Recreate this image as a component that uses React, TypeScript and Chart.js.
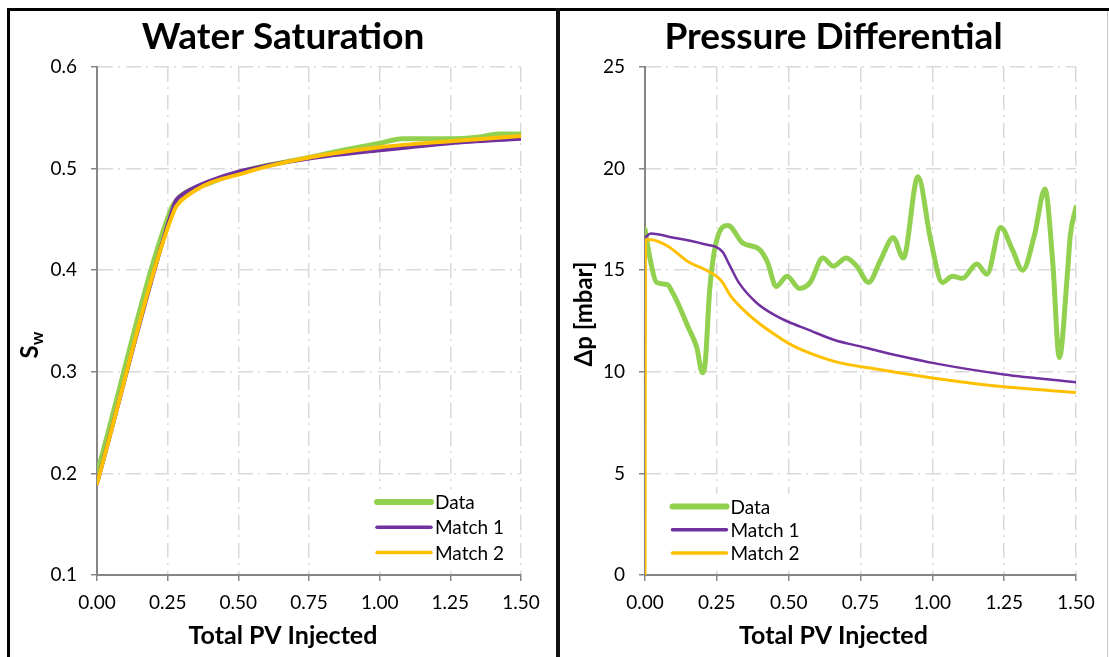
import React, { useEffect, useRef } from "react";
import { Chart, registerables } from "chart.js";

Chart.register(...registerables);

const FONT = "Lato, 'Open Sans', 'DejaVu Sans', sans-serif";

// ---------- Water Saturation ----------
const swDataX = [0, 0.265, 0.28, 0.3, 0.4, 0.5, 0.6, 0.75, 0.85, 1.0, 1.08, 1.2, 1.27, 1.35, 1.42, 1.5];
const swDataY = [0.2, 0.462, 0.468, 0.474, 0.486, 0.496, 0.503, 0.511, 0.517, 0.525, 0.5295, 0.5295, 0.5295, 0.531, 0.534, 0.534];
const swMatch1X = [0, 0.27, 0.28, 0.3, 0.35, 0.4, 0.5, 0.6, 0.75, 1.0, 1.25, 1.5];
const swMatch1Y = [0.19, 0.462, 0.469, 0.474, 0.482, 0.488, 0.497, 0.503, 0.51, 0.518, 0.525, 0.5295];
const swMatch2X = [0, 0.275, 0.29, 0.3, 0.35, 0.4, 0.5, 0.6, 0.75, 1.0, 1.25, 1.5];
const swMatch2Y = [0.19, 0.46, 0.466, 0.469, 0.479, 0.486, 0.494, 0.502, 0.511, 0.521, 0.527, 0.532];

// ---------- Pressure Differential ----------
const dpDataX = [0, 0.02, 0.04, 0.077, 0.096, 0.12, 0.15, 0.18, 0.2, 0.21, 0.225, 0.25, 0.289, 0.339, 0.4, 0.426, 0.457, 0.494, 0.538, 0.575, 0.619, 0.656, 0.7, 0.737, 0.778, 0.82, 0.864, 0.899, 0.95, 0.994, 1.035, 1.07, 1.105, 1.155, 1.19, 1.238, 1.279, 1.314, 1.355, 1.392, 1.419, 1.442, 1.471, 1.48, 1.5];
const dpDataY = [17.0, 15.4, 14.4, 14.3, 13.9, 13.2, 12.2, 11.2, 9.95, 10.5, 14.0, 16.5, 17.2, 16.35, 16.0, 15.4, 14.2, 14.7, 14.1, 14.4, 15.6, 15.2, 15.6, 15.2, 14.4, 15.5, 16.6, 15.6, 19.6, 16.5, 14.4, 14.7, 14.6, 15.3, 14.8, 17.1, 16.0, 15.0, 16.7, 19.0, 15.4, 10.7, 15.0, 16.7, 18.1];
const dpMatch1X = [0, 0.02, 0.1, 0.2, 0.27, 0.289, 0.326, 0.388, 0.45, 0.5, 0.563, 0.662, 0.75, 0.82, 1.0, 1.25, 1.5];
const dpMatch1Y = [16.6, 16.8, 16.6, 16.3, 15.9, 15.4, 14.4, 13.4, 12.8, 12.45, 12.1, 11.55, 11.25, 11.0, 10.44, 9.87, 9.49];
const dpMatch2X = [0, 0.002, 0.02, 0.077, 0.152, 0.214, 0.264, 0.3, 0.35, 0.4, 0.45, 0.5, 0.55, 0.662, 0.82, 1.0, 1.25, 1.5];
const dpMatch2Y = [0, 16.5, 16.5, 16.2, 15.4, 15.0, 14.5, 13.7, 12.95, 12.35, 11.85, 11.4, 11.05, 10.5, 10.1, 9.7, 9.26, 8.98];

const xTicksMin = 0;
const xTicksMax = 1.5;
const xTickStep = 0.25;
const swTickMin = 0.1;
const swTickMax = 0.6;
const swTickStep = 0.1;
const dpTickMin = 0;
const dpTickMax = 25;
const dpTickStep = 5;

const seriesLabels = ["Data", "Match 1", "Match 2"];
const xAxisTitle = "Total PV Injected";
const GREEN = "#92D050";
const PURPLE = "#7030A0";
const YELLOW = "#FFC000";

const zip = (xs: number[], ys: number[]) => xs.map((x, i) => ({ x, y: ys[i] }));

function legendPlugin(cfg: { x: number; y: number; gap: number; len: number }) {
  return {
    id: "insideLegend",
    afterDatasetsDraw(chart: any) {
      const { ctx, chartArea } = chart;
      const x0 = chartArea.left + cfg.x;
      const y0 = chartArea.top + cfg.y;
      ctx.save();
      ctx.font = `19px ${FONT}`;
      let maxW = 0;
      chart.data.datasets.forEach((ds: any) => {
        maxW = Math.max(maxW, ctx.measureText(ds.label).width);
      });
      const n = chart.data.datasets.length;
      ctx.fillStyle = "#fff";
      ctx.fillRect(x0 - 5, y0 - 13, cfg.len + 5 + maxW + 10, (n - 1) * cfg.gap + 26);
      chart.data.datasets.forEach((ds: any, i: number) => {
        const y = y0 + i * cfg.gap;
        ctx.strokeStyle = ds.borderColor;
        ctx.lineWidth = ds.legendWidth || ds.borderWidth;
        ctx.lineCap = "round";
        ctx.beginPath();
        ctx.moveTo(x0, y);
        ctx.lineTo(x0 + cfg.len, y);
        ctx.stroke();
        ctx.fillStyle = "#000";
        ctx.textBaseline = "middle";
        ctx.textAlign = "left";
        ctx.fillText(ds.label, x0 + cfg.len + 4, y + 1);
      });
      ctx.restore();
    },
  };
}

const xTitlePlugin = {
  id: "xTitle",
  afterDraw(chart: any) {
    const ctx = chart.ctx;
    ctx.save();
    ctx.fillStyle = "#000";
    ctx.font = `bold 25px ${FONT}`;
    ctx.textAlign = "center";
    ctx.textBaseline = "middle";
    ctx.fillText(xAxisTitle, chart.width / 2, 625);
    ctx.restore();
  },
};

const swTitlePlugin = {
  id: "swTitle",
  afterDraw(chart: any) {
    const ctx = chart.ctx;
    ctx.save();
    ctx.translate(28, 334);
    ctx.rotate(-Math.PI / 2);
    ctx.fillStyle = "#000";
    const big = `bold 24px ${FONT}`;
    const small = `bold 17px ${FONT}`;
    ctx.font = big;
    const wS = ctx.measureText("S").width;
    ctx.font = small;
    const wW = ctx.measureText("w").width;
    const start = -(wS + wW) / 2;
    ctx.textBaseline = "alphabetic";
    ctx.textAlign = "left";
    ctx.font = big;
    ctx.fillText("S", start, 0);
    ctx.font = small;
    ctx.fillText("w", start + wS, 5);
    ctx.restore();
  },
};

const dpTitlePlugin = {
  id: "dpTitle",
  afterDraw(chart: any) {
    const ctx = chart.ctx;
    ctx.save();
    ctx.translate(24, 303);
    ctx.rotate(-Math.PI / 2);
    ctx.fillStyle = "#000";
    ctx.font = `bold 24px ${FONT}`;
    ctx.textAlign = "center";
    ctx.textBaseline = "middle";
    ctx.fillText("Δp [mbar]", 0, 0);
    ctx.restore();
  },
};

function buildConfig(p: {
  title: string;
  datasets: any[];
  yMin: number;
  yMax: number;
  yStep: number;
  yDecimals: number;
  yWidth: number;
  rightPad: number;
  xHeight: number;
  plugins: any[];
}) {
  return {
    type: "line",
    data: { datasets: p.datasets },
    options: {
      responsive: false,
      animation: false,
      devicePixelRatio: 1,
      parsing: false,
      normalized: true,
      layout: { padding: { left: 0, right: 0, top: 0, bottom: 0 } },
      elements: { point: { radius: 0, hoverRadius: 0 } },
      plugins: {
        legend: { display: false },
        tooltip: { enabled: false },
        title: {
          display: true,
          text: p.title,
          color: "#000",
          font: { family: FONT, size: 37, weight: "bold", lineHeight: 1.2 },
          padding: { top: 4, bottom: 7.6 },
        },
      },
      scales: {
        x: {
          type: "linear",
          min: xTicksMin,
          max: xTicksMax,
          ticks: {
            stepSize: xTickStep,
            color: "#000",
            font: { family: FONT, size: 19 },
            padding: 10,
            maxRotation: 0,
            callback: (v: any) => Number(v).toFixed(2),
          },
          grid: { color: "#d9d9d9", lineWidth: 1.5, drawTicks: true, tickLength: 6, tickColor: "#868686", tickWidth: 1.5 },
          border: { display: true, color: "#868686", width: 2, dash: [15, 5, 2, 6] },
          title: { display: false },
          afterFit: (s: any) => {
            s.height = p.xHeight;
          },
        },
        y: {
          type: "linear",
          position: "left",
          min: p.yMin,
          max: p.yMax,
          ticks: {
            stepSize: p.yStep,
            color: "#000",
            font: { family: FONT, size: 19 },
            padding: 14,
            callback: (v: any) => Number(v).toFixed(p.yDecimals),
          },
          grid: { color: "#d9d9d9", lineWidth: 1.5, drawTicks: true, tickLength: 6, tickColor: "#868686", tickWidth: 1.5 },
          border: { display: true, color: "#868686", width: 2, dash: [15, 5, 2, 6] },
          afterFit: (s: any) => {
            s.width = p.yWidth;
          },
        },
        yPad: {
          type: "linear",
          position: "right",
          display: true,
          min: 0,
          max: 1,
          ticks: { display: false },
          grid: { display: false, drawTicks: false },
          border: { display: false },
          afterFit: (s: any) => {
            s.width = p.rightPad;
          },
        },
      },
    },
    plugins: p.plugins,
  };
}

function makeDatasets(
  d: { x: number[]; y: number[] }[],
  widths: number[],
  legendWidths: number[]
) {
  const colors = [GREEN, PURPLE, YELLOW];
  return d.map((s, i) => ({
    label: seriesLabels[i],
    data: zip(s.x, s.y),
    borderColor: colors[i],
    backgroundColor: colors[i],
    borderWidth: widths[i],
    legendWidth: legendWidths[i],
    fill: false,
    cubicInterpolationMode: "monotone",
    borderJoinStyle: "round",
    borderCapStyle: "round",
    yAxisID: "y",
    xAxisID: "x",
    order: 3 - i,
  }));
}

function ChartCanvas({ build, left, width }: { build: () => any; left: number; width: number }) {
  const ref = useRef<HTMLCanvasElement>(null);
  useEffect(() => {
    const chart = new Chart(ref.current as HTMLCanvasElement, build());
    return () => chart.destroy();
  }, []);
  return (
    <canvas
      ref={ref}
      width={width}
      height={646}
      style={{ position: "absolute", left, top: 11, width, height: 646 }}
    />
  );
}

export default function App() {
  useEffect(() => {
    document.body.style.margin = "0";
  }, []);

  const buildSw = () =>
    buildConfig({
      title: "Water Saturation",
      datasets: makeDatasets(
        [
          { x: swDataX, y: swDataY },
          { x: swMatch1X, y: swMatch1Y },
          { x: swMatch2X, y: swMatch2Y },
        ],
        [5, 4, 4],
        [6, 3.5, 3.5]
      ),
      yMin: swTickMin,
      yMax: swTickMax,
      yStep: swTickStep,
      yDecimals: 1,
      yWidth: 87,
      rightPad: 35,
      xHeight: 82,
      plugins: [legendPlugin({ x: 280, y: 435, gap: 25.2, len: 54 }), swTitlePlugin, xTitlePlugin],
    });

  const buildDp = () =>
    buildConfig({
      title: "Pressure Differential",
      datasets: makeDatasets(
        [
          { x: dpDataX, y: dpDataY },
          { x: dpMatch1X, y: dpMatch1Y },
          { x: dpMatch2X, y: dpMatch2Y },
        ],
        [5, 2.5, 3],
        [6, 3.5, 3.5]
      ),
      yMin: dpTickMin,
      yMax: dpTickMax,
      yStep: dpTickStep,
      yDecimals: 0,
      yWidth: 85,
      rightPad: 31,
      xHeight: 82,
      plugins: [legendPlugin({ x: 27.5, y: 439.5, gap: 23.3, len: 54 }), dpTitlePlugin, xTitlePlugin],
    });

  return (
    <div
      style={{
        position: "fixed",
        left: 0,
        top: 0,
        width: 1109,
        height: 657,
        overflow: "hidden",
        background: "#fff",
      }}
    >
      <div style={{ position: "absolute", left: 7, top: 8, width: 1102, height: 3, background: "#000" }} />
      <div style={{ position: "absolute", left: 7, top: 8, width: 3, height: 649, background: "#000" }} />
      <div style={{ position: "absolute", left: 556, top: 8, width: 4, height: 649, background: "#111" }} />
      <div style={{ position: "absolute", left: 1107, top: 11, width: 1, height: 646, background: "#c8c8c8" }} />
      <ChartCanvas build={buildSw} left={10} width={546} />
      <ChartCanvas build={buildDp} left={560} width={547} />
    </div>
  );
}
